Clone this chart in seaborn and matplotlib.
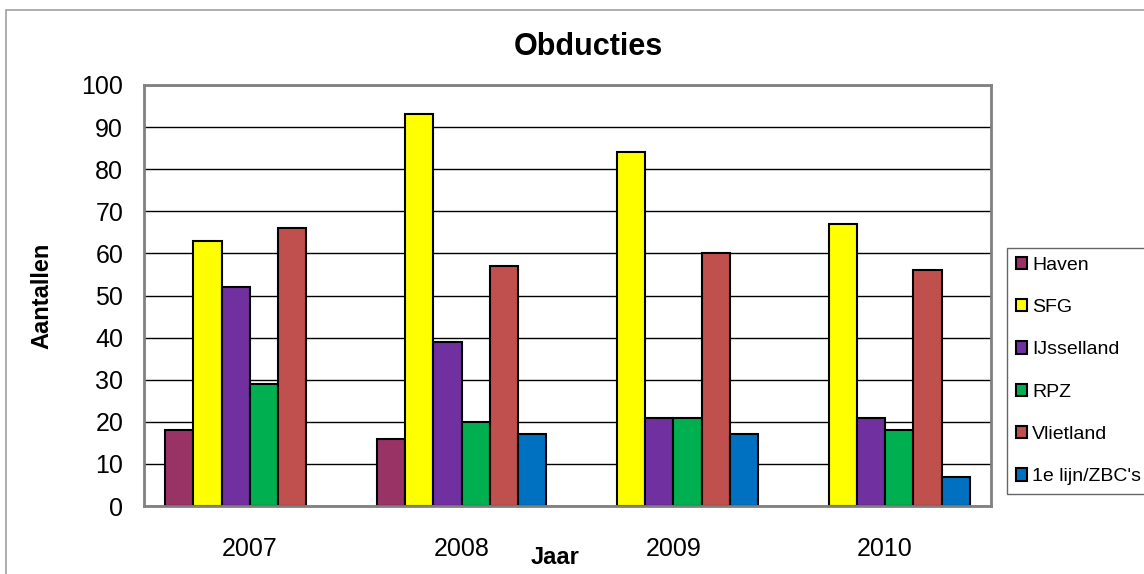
import matplotlib.pyplot as plt
import matplotlib.patches as mpatches
import numpy as np
import pandas as pd
import seaborn as sns

years = ["2007", "2008", "2009", "2010"]
hospitals = ["Haven", "SFG", "IJsselland", "RPZ", "Vlietland", "1e lijn/ZBC's"]
haven = [18, 16, np.nan, np.nan]
sfg = [63, 93, 84, 67]
ijsselland = [52, 39, 21, 21]
rpz = [29, 20, 21, 18]
vlietland = [66, 57, 60, 56]
eerste_lijn = [np.nan, 17, 17, 7]
colors = ["#993366", "#FFFF00", "#7030A0", "#00B050", "#C0504D", "#0070C0"]

series = [haven, sfg, ijsselland, rpz, vlietland, eerste_lijn]
rows = []
for name, vals in zip(hospitals, series):
    for yr, v in zip(years, vals):
        rows.append({"Jaar": yr, "Ziekenhuis": name, "Aantal": v})
df = pd.DataFrame(rows).dropna()

sns.set_style("white")
plt.rcParams["font.family"] = ["Liberation Sans", "DejaVu Sans"]
plt.rcParams["text.color"] = "black"
plt.rcParams["xtick.color"] = "black"
plt.rcParams["ytick.color"] = "black"
plt.rcParams["axes.labelcolor"] = "black"

fig = plt.figure(figsize=(11.44, 5.74), dpi=100)
ax = fig.add_axes([144 / 1144, 1 - 506 / 574, (991 - 144) / 1144, (506 - 85) / 574])

sns.barplot(data=df, x="Jaar", y="Aantal", hue="Ziekenhuis", order=years,
            hue_order=hospitals, palette=colors, saturation=1, width=0.8,
            edgecolor="black", linewidth=1.5, legend=False, ax=ax)

ax.set_ylim(0, 100)
ax.set_xlim(-0.5, len(years) - 0.5)
ax.set_yticks(np.arange(0, 101, 10))
ax.yaxis.grid(True, color="black", linewidth=1)
ax.set_axisbelow(True)

# category boundaries as tick marks, year labels in between
ax.set_xticks(np.arange(-0.5, len(years), 1.0))
ax.set_xticklabels([])
ax.set_xticks(np.arange(len(years)), minor=True)
ax.set_xticklabels(years, minor=True)
ax.tick_params(axis="x", which="major", length=7, width=1.5, color="#808080", direction="out")
ax.tick_params(axis="x", which="minor", length=0, pad=22, labelsize=18, labelcolor="black")
ax.tick_params(axis="y", length=7, width=1.5, color="#808080", direction="out", pad=8,
               labelsize=18, labelcolor="black")

for sp in ax.spines.values():
    sp.set_color("#808080")
    sp.set_linewidth(2)
    sp.set_visible(True)

ax.set_xlabel("")
ax.set_ylabel("Aantallen", fontsize=17, fontweight="bold", labelpad=20)
fig.text(555 / 1144, 1 - 558 / 574, "Jaar", ha="center", va="center", fontsize=17, fontweight="bold")
fig.text(588 / 1144, 1 - 47 / 574, "Obducties", ha="center", va="center", fontsize=22, fontweight="bold")

handles = [mpatches.Patch(facecolor=c, edgecolor="black", linewidth=1.5, label=h)
           for c, h in zip(colors, hospitals)]
leg = fig.legend(handles=handles, loc="upper left", bbox_to_anchor=(1007 / 1144, 1 - 248 / 574),
                 frameon=True, fancybox=False, edgecolor="#404040", fontsize=14,
                 handlelength=0.6, handleheight=0.6, handletextpad=0.25,
                 labelspacing=1.3, borderpad=0.45, borderaxespad=0)
leg.get_frame().set_linewidth(1)

fig.add_artist(mpatches.Rectangle((6 / 1144, -0.1), 1.2, 1 - 10 / 574 + 0.1,
                                  transform=fig.transFigure, fill=False,
                                  edgecolor="#a0a0a0", linewidth=1.2))

fig.savefig("out.png", dpi=100)
